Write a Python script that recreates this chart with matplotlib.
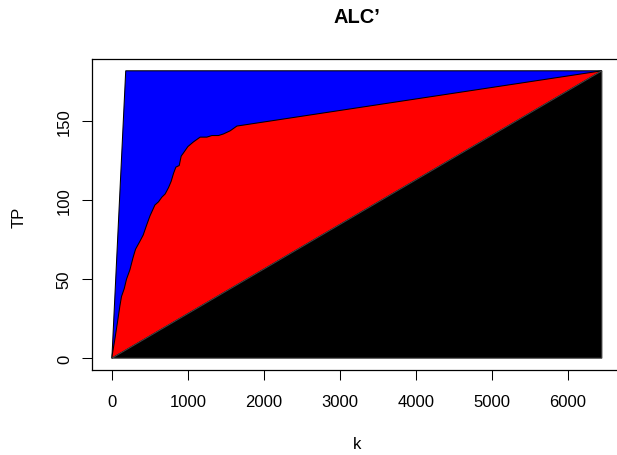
import matplotlib
matplotlib.use("Agg")
import matplotlib.pyplot as plt
from matplotlib.transforms import Affine2D

plt.rcParams['font.family'] = ['Liberation Sans', 'DejaVu Sans']

# Data
N_total = 6450       # total k
P_total = 182        # total positives (TP at end)
k_curve = [0, 4, 39, 74, 105, 126, 162, 192, 237, 280, 311, 368, 412, 455, 500,
           566, 613, 658, 701, 745, 780, 811, 842, 886, 912, 942, 1000, 1074,
           1162, 1250, 1316, 1403, 1468, 1557, 1645, 6450]
tp_curve = [0, 2, 12, 23, 33, 39, 44, 50, 56, 64, 69, 74, 78, 84, 90,
            97, 99, 102, 104, 108, 112, 117, 121, 122, 128, 130, 134, 137,
            140, 140, 141, 141, 142, 144, 147, 182]
x_ticks = [0, 1000, 2000, 3000, 4000, 5000, 6000]
y_ticks = [0, 50, 100, 150]
title = "ALC\u2019"
xlabel = "k"
ylabel = "TP"

W, H = 617, 456
fig = plt.figure(figsize=(W / 100, H / 100), dpi=100)
# plot region in pixels
L, R, T, B = 92.3, 621.5, 60.3, 370.7
ax = fig.add_axes([L / W, (H - B) / H, (R - L) / W, (B - T) / H])

lw = 0.75
# blue: perfect classifier
ax.fill([0, P_total, N_total], [0, P_total, P_total], facecolor='#0000FF',
        edgecolor='black', linewidth=lw)
# red: actual curve
ax.fill(k_curve, tp_curve, facecolor='#FF0000', edgecolor='black', linewidth=lw)
# black: random
ax.fill([0, N_total, N_total], [0, P_total, 0], facecolor='black',
        edgecolor='#444444', linewidth=lw)

xr = N_total * 0.04
yr = P_total * 0.04
ax.set_xlim(-xr, N_total + xr)
ax.set_ylim(-yr, P_total + yr)

for s in ax.spines.values():
    s.set_linewidth(0.9)
    s.set_color('black')

ax.set_xticks(x_ticks)
ax.set_yticks(y_ticks)
ax.set_xticklabels([str(v) for v in x_ticks])
ax.set_yticklabels([str(v) for v in y_ticks], rotation=90, va='center')
ax.tick_params(axis='both', direction='out', length=7.2, width=0.75,
               labelsize=12, colors='black')
ax.tick_params(axis='x', pad=10.5)
ax.tick_params(axis='y', pad=7.5)

cx = (L + R) / 2
fig.text(cx / W, 1 - 17.5 / H, title, ha='center', va='center',
         fontsize=14.4, fontweight='bold')
fig.text(cx / W, 1 - 449.3 / H, xlabel, ha='center', va='baseline', fontsize=12)
fig.text(19 / W, 1 - 217 / H, ylabel, ha='center', va='center', rotation=90,
         fontsize=12)

fig.savefig("out.png", dpi=100)
